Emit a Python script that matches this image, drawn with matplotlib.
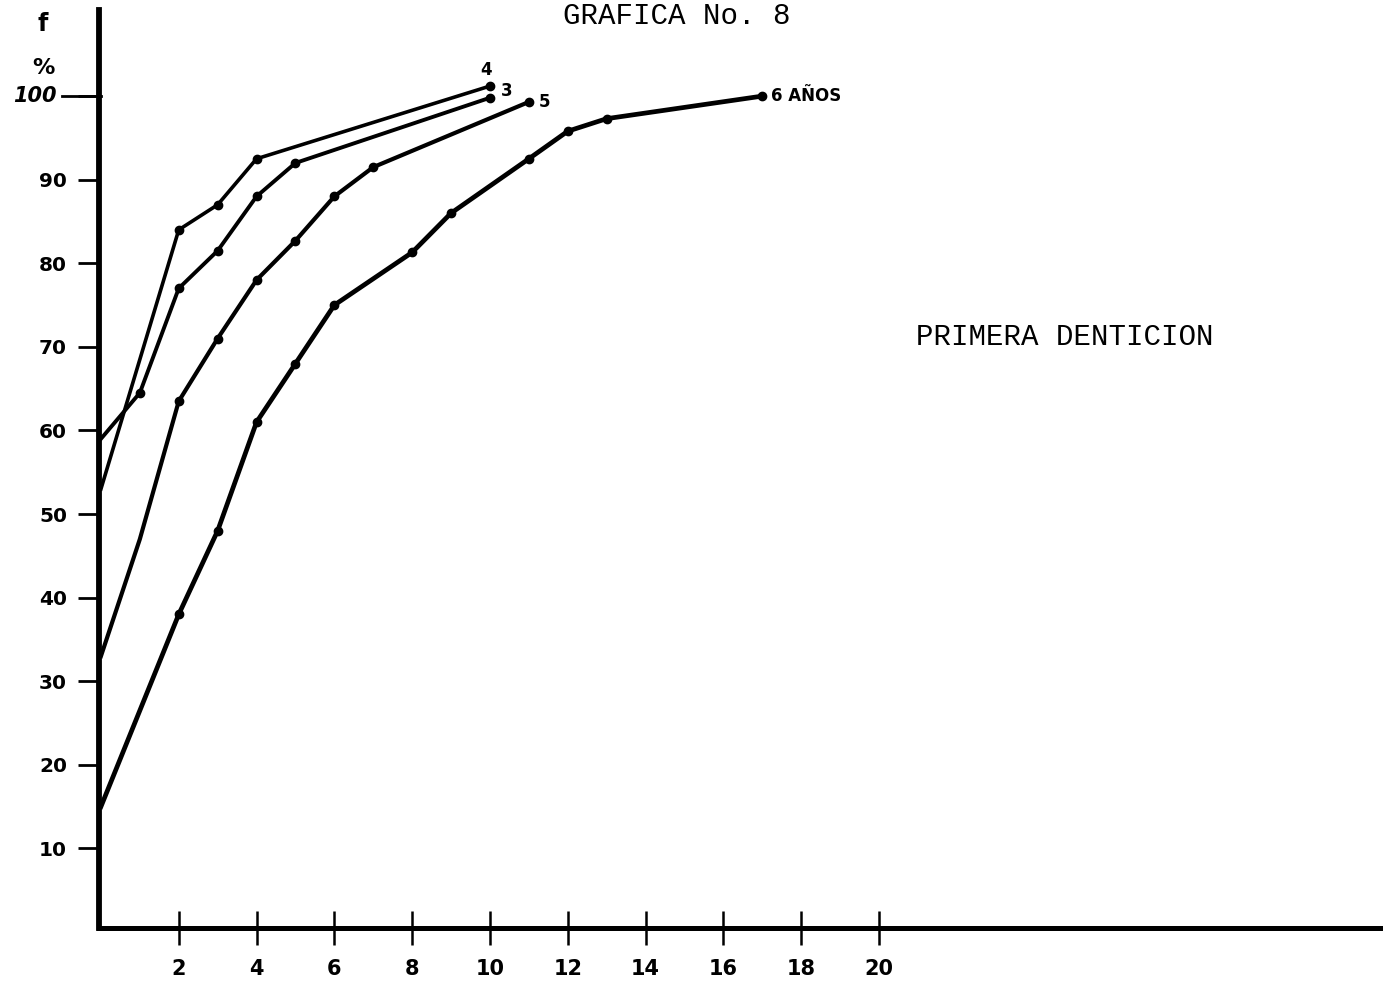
"""Grafica No. 8 - Primera denticion, curvas acumuladas por edad."""
import matplotlib
matplotlib.use("Agg")
import matplotlib.pyplot as plt

# datos (frecuencia acumulada %)
x_3 = [0, 1, 2, 3, 4, 5, 10]
y_3 = [59, 64.5, 77, 81.5, 88, 92, 99.8]

x_4 = [0, 2, 3, 4, 10]
y_4 = [53, 84, 87, 92.5, 101.2]

x_5 = [0, 1, 2, 3, 4, 5, 6, 7, 11]
y_5 = [33, 47, 63.5, 71, 78, 82.7, 88, 91.5, 99.3]

x_6 = [0, 2, 3, 4, 5, 6, 8, 9, 11, 12, 13, 17]
y_6 = [15, 38, 48, 61, 68, 75, 81.3, 86, 92.5, 95.8, 97.3, 100]

xticks = [2, 4, 6, 8, 10, 12, 14, 16, 18, 20]
yticks = [10, 20, 30, 40, 50, 60, 70, 80, 90, 100]

fig = plt.figure(figsize=(13.91, 9.82), dpi=100)
ax = fig.add_axes([99 / 1391, 1 - 928 / 982, (1380 - 99) / 1391, (928 - 10) / 982])
ax.set_xlim(-0.05, 32.88)
ax.set_ylim(0.48, 110.3)

for s in ["top", "right"]:
    ax.spines[s].set_visible(False)
ax.spines["left"].set_linewidth(4.2)
ax.spines["bottom"].set_linewidth(3.6)

# el primer punto (sobre el eje) no lleva marca
ax.plot(x_4, y_4, "-o", color="black", lw=2.6, ms=6, markevery=list(range(1, len(x_4))))
ax.plot(x_3, y_3, "-o", color="black", lw=2.8, ms=6, markevery=list(range(1, len(x_3))))
ax.plot(x_5, y_5, "-o", color="black", lw=3.0, ms=6, markevery=[2, 3, 4, 5, 6, 7, 8])
ax.plot(x_6, y_6, "-o", color="black", lw=3.4, ms=6, markevery=list(range(1, len(x_6))))

# etiquetas de las curvas
lab = dict(fontsize=12, fontweight="bold", family="DejaVu Sans", textcoords="offset points")
ax.annotate("4", (x_4[-1], y_4[-1]), xytext=(-3, 5), ha="center", va="bottom", **lab)
ax.annotate("3", (x_3[-1], y_3[-1]), xytext=(8, 5), ha="left", va="center", **lab)
ax.annotate("5", (x_5[-1], y_5[-1]), xytext=(7, 0), ha="left", va="center", **lab)
ax.annotate("6 AÑOS", (x_6[-1], y_6[-1]), xytext=(6, 0), ha="left", va="center", **lab)

ax.set_xticks(xticks)
ax.set_xticklabels([str(v) for v in xticks], fontsize=15, fontweight="bold")
ax.tick_params(axis="x", direction="inout", length=24, width=1.8, pad=10)
ax.set_yticks(yticks)
ylabels = [str(v) for v in yticks]
ylabels[-1] = ""
ax.set_yticklabels(ylabels, fontsize=14.5, fontweight="bold")
ax.tick_params(axis="y", direction="out", length=15, width=2.0, pad=8)

# etiqueta 100 en cursiva y su marca mas larga
ax.plot([-1.0, 0], [100, 100], color="black", lw=2.0, clip_on=False)
ax.text(-1.15, 100, "100", fontsize=15, fontweight="bold", style="italic",
        ha="right", va="center")

fig.text(43 / 1391, 1 - 24 / 982, "f", fontsize=17, fontweight="bold", ha="center", va="center")
fig.text(43 / 1391, 1 - 68 / 982, "%", fontsize=16, fontweight="bold", ha="center", va="center")

fig.text(677 / 1391, 1 - 16 / 982, "GRAFICA No. 8", fontsize=21, family="Liberation Mono",
         ha="center", va="center")
fig.text(1065 / 1391, 1 - 337 / 982, "PRIMERA DENTICION", fontsize=21,
         family="Liberation Mono", ha="center", va="center")

fig.savefig("out.png", dpi=100)
